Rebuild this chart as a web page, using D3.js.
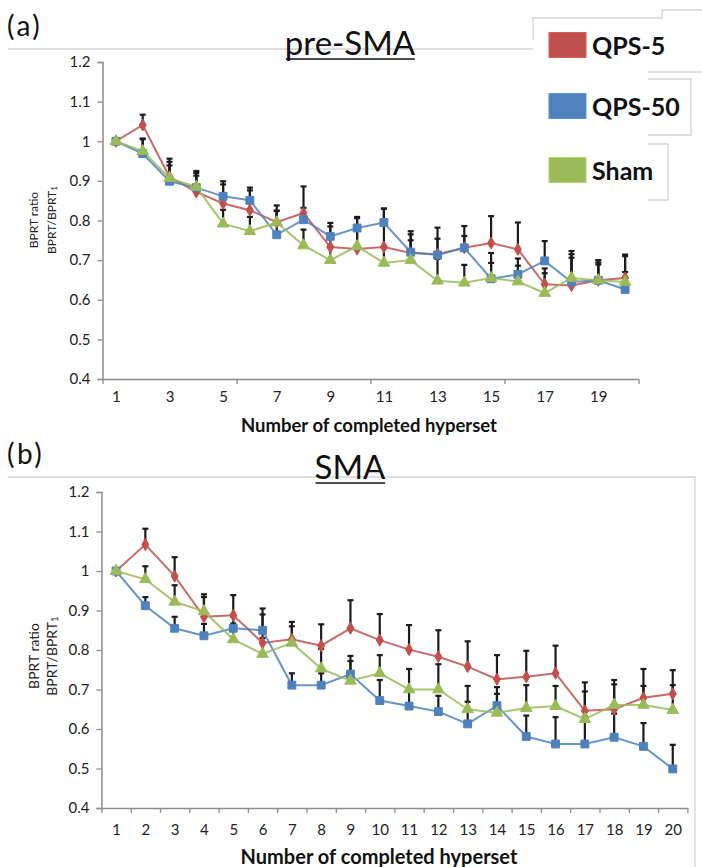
<!DOCTYPE html>
<html>
<head>
<meta charset="utf-8">
<script src="https://cdn.jsdelivr.net/npm/d3@7"></script>
<style>
  html, body { margin: 0; padding: 0; background: #fff; }
  svg { display: block; }
  text { font-family: Lato, "Open Sans", sans-serif; }
</style>
</head>
<body>
<svg id="chart" width="702" height="867"></svg>
<script>
// Hyperset index (x categories)
const categories = [1,2,3,4,5,6,7,8,9,10,11,12,13,14,15,16,17,18,19,20];
const yTicks = [0.4,0.5,0.6,0.7,0.8,0.9,1,1.1,1.2];
const topXTickLabels = [1,3,5,7,9,11,13,15,17,19];
const bottomXTickLabels = categories;

const seriesNames = ["QPS-5", "QPS-50", "Sham"];
const seriesColors = ["#C0504D", "#4F81BD", "#9BBB59"];

// (a) pre-SMA: mean BPRT ratio
const preQps5  = [1.000,1.041,0.910,0.872,0.843,0.826,0.796,0.819,0.733,0.728,0.733,0.718,0.715,0.731,0.743,0.727,0.639,0.636,0.649,0.655];
const preQps50 = [1.000,0.969,0.899,0.883,0.861,0.851,0.764,0.802,0.760,0.781,0.795,0.720,0.713,0.731,0.653,0.664,0.698,0.645,0.649,0.626];
const preSham  = [1.000,0.975,0.907,0.885,0.792,0.773,0.795,0.737,0.700,0.735,0.693,0.700,0.648,0.643,0.655,0.646,0.617,0.655,0.649,0.645];
// (a) pre-SMA: upper error
const preQps5Err  = [0,0.026,0.046,0.053,0.056,0.057,0.042,0.067,0.061,0.081,0.097,0.055,0.067,0.055,0.068,0.068,0.040,0.087,0.051,0.059];
const preQps50Err = [0,0.038,0.040,0.030,0.030,0.025,0.060,0.030,0.025,0.025,0.035,0.045,0.041,0.030,0.040,0.040,0.050,0.070,0.045,0.044];
const preShamErr  = [0,0.030,0.041,0.035,0.035,0.036,0.030,0.040,0.035,0.040,0.040,0.050,0.055,0.045,0.063,0.040,0.050,0.051,0.040,0.065];

// (b) SMA: mean BPRT ratio
const smaQps5  = [1.000,1.067,0.987,0.884,0.888,0.818,0.827,0.811,0.855,0.825,0.801,0.783,0.758,0.726,0.732,0.741,0.646,0.650,0.679,0.689];
const smaQps50 = [1.000,0.912,0.855,0.836,0.855,0.850,0.711,0.711,0.739,0.672,0.658,0.644,0.613,0.659,0.581,0.562,0.562,0.579,0.556,0.499];
const smaSham  = [1.000,0.979,0.922,0.898,0.827,0.790,0.818,0.753,0.722,0.741,0.700,0.700,0.650,0.641,0.653,0.658,0.625,0.661,0.661,0.648];
// (b) SMA: upper error
const smaQps5Err  = [0,0.040,0.048,0.057,0.051,0.087,0.044,0.054,0.071,0.066,0.062,0.067,0.064,0.061,0.066,0.070,0.072,0.074,0.073,0.060];
const smaQps50Err = [0,0.022,0.029,0.030,0.030,0.040,0.030,0.030,0.046,0.052,0.040,0.040,0.056,0.030,0.053,0.068,0.070,0.060,0.059,0.061];
const smaShamErr  = [0,0.033,0.042,0.036,0.040,0.040,0.042,0.050,0.050,0.046,0.052,0.064,0.059,0.065,0.058,0.051,0.070,0.052,0.048,0.063];

const svg = d3.select("#chart");
const markerSymbols = [d3.symbolDiamond, d3.symbolSquare, d3.symbolTriangle];
const markerSizes = [42, 62, 58];

function drawPanel(cfg) {
  const g = svg.append("g");
  const x = d3.scaleBand().domain(categories).range([cfg.x0, cfg.x1]);
  const xc = c => x(c) + x.bandwidth() / 2;
  const y = d3.scaleLinear().domain([0.4, 1.2]).range([cfg.yBottom, cfg.yTop]);

  // panel letter and title
  g.append("text").attr("x", 7).attr("y", cfg.letterY)
    .attr("font-family", "'DejaVu Sans', sans-serif")
    .attr("font-size", 28).attr("letter-spacing", 2.5).attr("fill", "#111")
    .text(cfg.letter);
  const t = g.append("text").attr("x", cfg.titleX).attr("y", cfg.titleY)
    .attr("text-anchor", "middle").attr("font-size", cfg.titleSize).attr("fill", "#111")
    .text(cfg.title);
  const tb = t.node().getBBox();
  g.append("line").attr("x1", tb.x + 1).attr("x2", tb.x + tb.width - 1)
    .attr("y1", cfg.titleY + 4).attr("y2", cfg.titleY + 4)
    .attr("stroke", "#111").attr("stroke-width", 1.6);

  // y axis
  const yAxis = g.append("g").attr("transform", `translate(${cfg.x0},0)`)
    .call(d3.axisLeft(y).tickValues(yTicks).tickFormat(d3.format("~g")).tickSizeOuter(0).tickSize(5).tickPadding(7));
  yAxis.select(".domain").attr("stroke", "#8c8c8c").attr("stroke-width", 1.5);
  yAxis.selectAll(".tick line").attr("stroke", "#8c8c8c").attr("stroke-width", 1.3);
  yAxis.selectAll(".tick text").attr("font-family", "Lato, sans-serif")
    .attr("font-size", 15).attr("fill", "#222");

  // x axis line with boundary ticks
  const bounds = d3.scaleLinear().domain([0, categories.length]).range([cfg.x0, cfg.x1]);
  const xAxis = g.append("g").attr("transform", `translate(0,${cfg.yBottom})`)
    .call(d3.axisBottom(bounds).tickValues(d3.range(0, categories.length + 1, cfg.tickEvery))
      .tickSize(5).tickSizeOuter(0).tickFormat(""));
  xAxis.select(".domain").attr("stroke", "#8c8c8c").attr("stroke-width", 1.5);
  xAxis.selectAll(".tick line").attr("stroke", "#8c8c8c").attr("stroke-width", 1.3);

  // x tick labels
  const xPts = d3.scalePoint().domain(categories).range([xc(categories[0]), xc(categories[categories.length - 1])]);
  const xLab = g.append("g").attr("transform", `translate(0,${cfg.xLabelY})`)
    .call(d3.axisBottom(xPts).tickValues(cfg.xTickLabels).tickSize(0).tickPadding(0));
  xLab.select(".domain").remove();
  xLab.selectAll(".tick text").attr("font-family", "Lato, sans-serif")
    .attr("font-size", 15).attr("fill", "#222").attr("dy", "0.35em");

  g.append("text").attr("x", cfg.xTitleX).attr("y", cfg.xTitleY)
    .attr("text-anchor", "middle").attr("font-size", cfg.xTitleSize).attr("font-weight", "bold")
    .attr("fill", "#111").attr("dominant-baseline", "central")
    .text("Number of completed hyperset");

  // y title (two rotated lines)
  const yt1 = g.append("text")
    .attr("transform", `translate(${cfg.yTitleX1},${cfg.yTitleY}) rotate(-90)`)
    .attr("text-anchor", "middle").attr("dominant-baseline", "central")
    .attr("font-size", cfg.yTitleSize).attr("fill", "#222");
  yt1.append("tspan").text("BPRT ");
  yt1.append("tspan").text("ratio");
  const yt2 = g.append("text")
    .attr("transform", `translate(${cfg.yTitleX2},${cfg.yTitleY}) rotate(-90)`)
    .attr("text-anchor", "middle").attr("dominant-baseline", "central")
    .attr("font-size", cfg.yTitleSize).attr("fill", "#222");
  yt2.append("tspan").text("BPRT/BPRT");
  yt2.append("tspan").attr("font-size", cfg.yTitleSize * 0.7).attr("dy", "0.35em").text("1");

  const line = d3.line().x((d, i) => xc(categories[i])).y(d => y(d));

  // error bars (upper only)
  cfg.series.forEach((s, si) => {
    const eb = g.append("g").attr("stroke", "#1b1b1b").attr("stroke-width", 2.2);
    s.values.forEach((v, i) => {
      const e = s.errors[i];
      if (!e) return;
      const cx = xc(categories[i]);
      eb.append("line").attr("x1", cx).attr("x2", cx).attr("y1", y(v)).attr("y2", y(v + e));
      eb.append("line").attr("x1", cx - 3).attr("x2", cx + 3).attr("y1", y(v + e)).attr("y2", y(v + e));
    });
  });

  // lines and markers
  cfg.series.forEach((s, si) => {
    g.append("path").datum(s.values).attr("d", line)
      .attr("fill", "none").attr("stroke", seriesColors[si]).attr("stroke-width", 2).attr("stroke-opacity", 0.85);
  });
  cfg.series.forEach((s, si) => {
    g.append("g").selectAll("path").data(s.values).join("path")
      .attr("transform", (d, i) => `translate(${xc(categories[i])},${y(d)})`)
      .attr("d", d3.symbol().type(markerSymbols[si]).size(markerSizes[si]))
      .attr("fill", seriesColors[si]).attr("stroke", seriesColors[si]).attr("stroke-width", 1);
  });
}

// frame lines of the chart areas
const frame = svg.append("g").attr("stroke", "#d4d4d4").attr("stroke-width", 1.3).attr("fill", "none");
frame.append("path").attr("d", "M8,49 H533");
frame.append("path").attr("d", "M533,40 V18 H662 V10 H702");
frame.append("path").attr("d", "M648,72 H702");
frame.append("path").attr("d", "M648,79 H691 V135 H648");
frame.append("path").attr("d", "M648,144 H668 V200 H648");
frame.append("path").attr("d", "M8,477 H695 V867");

drawPanel({
  letter: "(a)", letterY: 36, title: "pre-SMA", titleX: 350, titleY: 55, titleSize: 33,
  x0: 102.5, x1: 638.5, yTop: 62, yBottom: 379, tickEvery: 5,
  xTickLabels: topXTickLabels, xLabelY: 397, xTitleX: 369, xTitleY: 425, xTitleSize: 18.5,
  yTitleX1: 33, yTitleX2: 51, yTitleY: 220, yTitleSize: 12,
  series: [
    { values: preQps5, errors: preQps5Err },
    { values: preQps50, errors: preQps50Err },
    { values: preSham, errors: preShamErr }
  ]
});

drawPanel({
  letter: "(b)", letterY: 464, title: "SMA", titleX: 350, titleY: 479, titleSize: 33,
  x0: 101.4, x1: 687.4, yTop: 492, yBottom: 808, tickEvery: 1,
  xTickLabels: bottomXTickLabels, xLabelY: 830, xTitleX: 379, xTitleY: 856, xTitleSize: 20,
  yTitleX1: 33, yTitleX2: 51, yTitleY: 656, yTitleSize: 14,
  series: [
    { values: smaQps5, errors: smaQps5Err },
    { values: smaQps50, errors: smaQps50Err },
    { values: smaSham, errors: smaShamErr }
  ]
});

// legend
const legendY = [45, 106, 170];
const legend = svg.append("g");
seriesNames.forEach((name, i) => {
  legend.append("rect").attr("x", 549).attr("y", legendY[i] - 12.5).attr("width", 37).attr("height", 25)
    .attr("fill", seriesColors[i]).attr("stroke", d3.color(seriesColors[i]).brighter(0.4)).attr("stroke-width", 1);
  legend.append("text").attr("x", 592).attr("y", legendY[i]).attr("dominant-baseline", "central")
    .attr("font-size", 25).attr("font-weight", "bold").attr("fill", "#111").text(name);
});
</script>
</body>
</html>
